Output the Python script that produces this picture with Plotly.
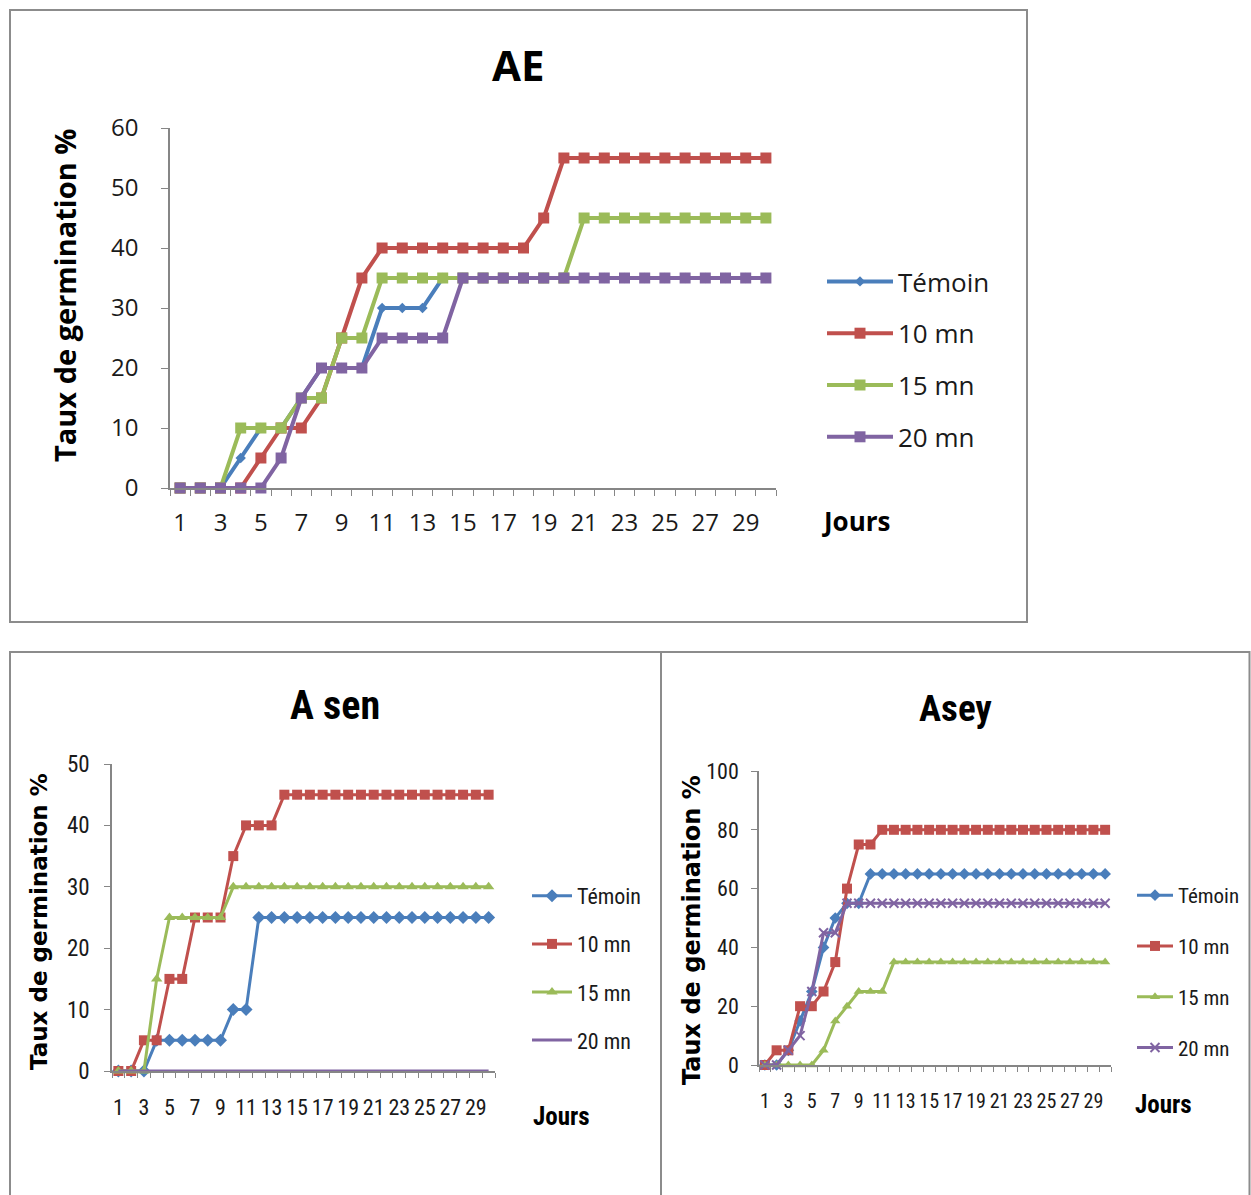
import plotly.graph_objects as go

W, H = 1251, 1195

days = list(range(1, 31))
odd_days = list(range(1, 30, 2))
series_names = ["Témoin", "10 mn", "15 mn", "20 mn"]
colors = ["#4A7EBB", "#C0504D", "#9BBB59", "#8064A2"]

# AE
ae_temoin = [0, 0, 0, 5, 10, 10, 15, 20, 20, 20, 30, 30, 30, 35, 35, 35, 35, 35, 35, 35, 35, 35, 35, 35, 35, 35, 35, 35, 35, 35]
ae_10mn = [0, 0, 0, 0, 5, 10, 10, 15, 25, 35, 40, 40, 40, 40, 40, 40, 40, 40, 45, 55, 55, 55, 55, 55, 55, 55, 55, 55, 55, 55]
ae_15mn = [0, 0, 0, 10, 10, 10, 15, 15, 25, 25, 35, 35, 35, 35, 35, 35, 35, 35, 35, 35, 45, 45, 45, 45, 45, 45, 45, 45, 45, 45]
ae_20mn = [0, 0, 0, 0, 0, 5, 15, 20, 20, 20, 25, 25, 25, 25, 35, 35, 35, 35, 35, 35, 35, 35, 35, 35, 35, 35, 35, 35, 35, 35]

# A sen
asen_temoin = [0, 0, 0, 5, 5, 5, 5, 5, 5, 10, 10, 25, 25, 25, 25, 25, 25, 25, 25, 25, 25, 25, 25, 25, 25, 25, 25, 25, 25, 25]
asen_10mn = [0, 0, 5, 5, 15, 15, 25, 25, 25, 35, 40, 40, 40, 45, 45, 45, 45, 45, 45, 45, 45, 45, 45, 45, 45, 45, 45, 45, 45, 45]
asen_15mn = [0, 0, 0, 15, 25, 25, 25, 25, 25, 30, 30, 30, 30, 30, 30, 30, 30, 30, 30, 30, 30, 30, 30, 30, 30, 30, 30, 30, 30, 30]
asen_20mn = [0, 0, 0, 0, 0, 0, 0, 0, 0, 0, 0, 0, 0, 0, 0, 0, 0, 0, 0, 0, 0, 0, 0, 0, 0, 0, 0, 0, 0, 0]

# Asey
asey_temoin = [0, 0, 5, 15, 25, 40, 50, 55, 55, 65, 65, 65, 65, 65, 65, 65, 65, 65, 65, 65, 65, 65, 65, 65, 65, 65, 65, 65, 65, 65]
asey_10mn = [0, 5, 5, 20, 20, 25, 35, 60, 75, 75, 80, 80, 80, 80, 80, 80, 80, 80, 80, 80, 80, 80, 80, 80, 80, 80, 80, 80, 80, 80]
asey_15mn = [0, 0, 0, 0, 0, 5, 15, 20, 25, 25, 25, 35, 35, 35, 35, 35, 35, 35, 35, 35, 35, 35, 35, 35, 35, 35, 35, 35, 35, 35]
asey_20mn = [0, 0, 5, 10, 25, 45, 45, 55, 55, 55, 55, 55, 55, 55, 55, 55, 55, 55, 55, 55, 55, 55, 55, 55, 55, 55, 55, 55, 55, 55]

WIDE = "Open Sans, Lato, sans-serif"
NARROW = "Noto Sans Condensed, Noto Sans ExtraCondensed, Liberation Sans Narrow, Roboto Condensed, Liberation Sans"
YTITLE_B = "DejaVu Sans, Verdana, sans-serif"
AXC = "#868686"


def px(x):
    return x / W


def py(y):
    return 1 - y / H


fig = go.Figure()

panels = [
    dict(xa="x", ya="y", leg="legend", data=[ae_temoin, ae_10mn, ae_15mn, ae_20mn],
         symbols=["diamond", "square", "square", "square"], sizes=[8, 11, 11, 11], lw=4),
    dict(xa="x2", ya="y2", leg="legend2", data=[asen_temoin, asen_10mn, asen_15mn, asen_20mn],
         symbols=["diamond", "square", "triangle-up", None], sizes=[10, 10, 10, 0], lw=3),
    dict(xa="x3", ya="y3", leg="legend3", data=[asey_temoin, asey_10mn, asey_15mn, asey_20mn],
         symbols=["diamond", "square", "triangle-up", "x-thin"], sizes=[9, 10, 9, 9], lw=3),
]

for p in panels:
    for i, (name, vals) in enumerate(zip(series_names, p["data"])):
        sym = p["symbols"][i]
        if sym is None:
            mode = "lines"
            marker = dict()
        else:
            mode = "lines+markers"
            if sym == "x-thin":
                marker = dict(symbol=sym, size=p["sizes"][i], color=colors[i],
                              line=dict(color=colors[i], width=2))
            else:
                marker = dict(symbol=sym, size=p["sizes"][i], color=colors[i])
        fig.add_trace(go.Scatter(
            x=days, y=vals, name=name, mode=mode, marker=marker,
            line=dict(color=colors[i], width=p["lw"]),
            xaxis=p["xa"], yaxis=p["ya"], legend=p["leg"],
            legendgroup=p["leg"] + str(i), cliponaxis=False,
        ))


def xaxis_cfg(domain, anchor, font, standoff, ticklen):
    return dict(
        domain=domain, anchor=anchor, range=[0.5, 30.5],
        tickmode="array", tickvals=odd_days, ticktext=[str(d) for d in odd_days],
        ticks="", showgrid=False, zeroline=False, showline=True, tickangle=0,
        linecolor=AXC, linewidth=1.5, tickfont=font, ticklabelstandoff=standoff,
        minor=dict(tickmode="array", tickvals=[d - 0.5 for d in days] + [30.5],
                   ticks="outside", ticklen=ticklen, tickcolor=AXC, tickwidth=1.2,
                   showgrid=False),
        fixedrange=True, automargin=False,
    )


def yaxis_cfg(domain, anchor, rng, dtick, font, standoff, ticklen):
    return dict(
        domain=domain, anchor=anchor, range=rng, dtick=dtick, tick0=0,
        ticks="outside", ticklen=ticklen, tickcolor=AXC, tickwidth=1.2,
        showgrid=False, zeroline=False, showline=True, linecolor=AXC, linewidth=1.5,
        tickfont=font, ticklabelstandoff=standoff, fixedrange=True, automargin=False,
    )


ae_font = dict(family=WIDE, size=24, color="#1a1a1a")
asen_font_x = dict(family=NARROW, size=22, color="#1a1a1a")
asen_font_y = dict(family=NARROW, size=23, color="#1a1a1a")
asey_font_x = dict(family=NARROW, size=20, color="#1a1a1a")
asey_font_y = dict(family=NARROW, size=22, color="#1a1a1a")

fig.update_layout(
    width=W, height=H, margin=dict(l=0, r=0, t=0, b=0, autoexpand=False),
    paper_bgcolor="white", plot_bgcolor="white", showlegend=True,
    xaxis=xaxis_cfg([px(170), px(776)], "y", ae_font, 12, 6),
    yaxis=yaxis_cfg([py(488), py(128)], "x", [0, 60], 10, ae_font, 18, 7),
    xaxis2=xaxis_cfg([px(112), px(495)], "y2", asen_font_x, 16, 5),
    yaxis2=yaxis_cfg([py(1071), py(764)], "x2", [0, 50], 10, asen_font_y, 10, 6),
    xaxis3=xaxis_cfg([px(759), px(1111)], "y3", asey_font_x, 17, 5),
    yaxis3=yaxis_cfg([py(1065), py(771)], "x3", [0, 100], 20, asey_font_y, 8, 6),
    legend=dict(x=px(822), y=py(258), xanchor="left", yanchor="top",
                font=dict(family=WIDE, size=26, color="#1a1a1a"),
                tracegroupgap=15, traceorder="grouped", itemwidth=66,
                bgcolor="rgba(0,0,0,0)"),
    legend2=dict(x=px(527), y=py(875), xanchor="left", yanchor="top",
                 font=dict(family=NARROW, size=22, color="#1a1a1a"),
                 tracegroupgap=16.5, traceorder="grouped", itemwidth=40,
                 bgcolor="rgba(0,0,0,0)"),
    legend3=dict(x=px(1132), y=py(875), xanchor="left", yanchor="top",
                 font=dict(family=NARROW, size=21, color="#1a1a1a"),
                 tracegroupgap=20.5, traceorder="grouped", itemwidth=36,
                 bgcolor="rgba(0,0,0,0)"),
)

annots = [
    dict(text="<b>AE</b>", x=px(518), y=py(65), font=dict(family=WIDE, size=42, color="black")),
    dict(text="<b>Taux de germination %</b>", x=px(65), y=py(296), textangle=-90,
         font=dict(family=WIDE, size=29, color="black")),
    dict(text="<b>Jours</b>", x=px(856), y=py(521), font=dict(family=WIDE, size=26, color="black")),
    dict(text="<b>A sen</b>", x=px(335), y=py(705), font=dict(family=NARROW, size=40, color="black")),
    dict(text="<b>Taux de germination %</b>", x=px(39), y=py(922), textangle=-90,
         font=dict(family=YTITLE_B, size=23, color="black")),
    dict(text="<b>Jours</b>", x=px(561), y=py(1116), font=dict(family=NARROW, size=25, color="black")),
    dict(text="<b>Asey</b>", x=px(956), y=py(708), font=dict(family=NARROW, size=37, color="black")),
    dict(text="<b>Taux de germination %</b>", x=px(692), y=py(930), textangle=-90,
         font=dict(family=YTITLE_B, size=24, color="black")),
    dict(text="<b>Jours</b>", x=px(1163), y=py(1104), font=dict(family=NARROW, size=25, color="black")),
]
for a in annots:
    a.update(xref="paper", yref="paper", showarrow=False, xanchor="center", yanchor="middle")
    fig.add_annotation(**a)

border = dict(color="#8c8c8c", width=2)
fig.add_shape(type="rect", xref="paper", yref="paper", x0=px(10), x1=px(1027), y0=py(622), y1=py(10), line=border)
fig.add_shape(type="rect", xref="paper", yref="paper", x0=px(10), x1=px(661), y0=py(1200), y1=py(652), line=border)
fig.add_shape(type="rect", xref="paper", yref="paper", x0=px(661), x1=px(1249.5), y0=py(1200), y1=py(652), line=border)

fig.write_html("out.html")
